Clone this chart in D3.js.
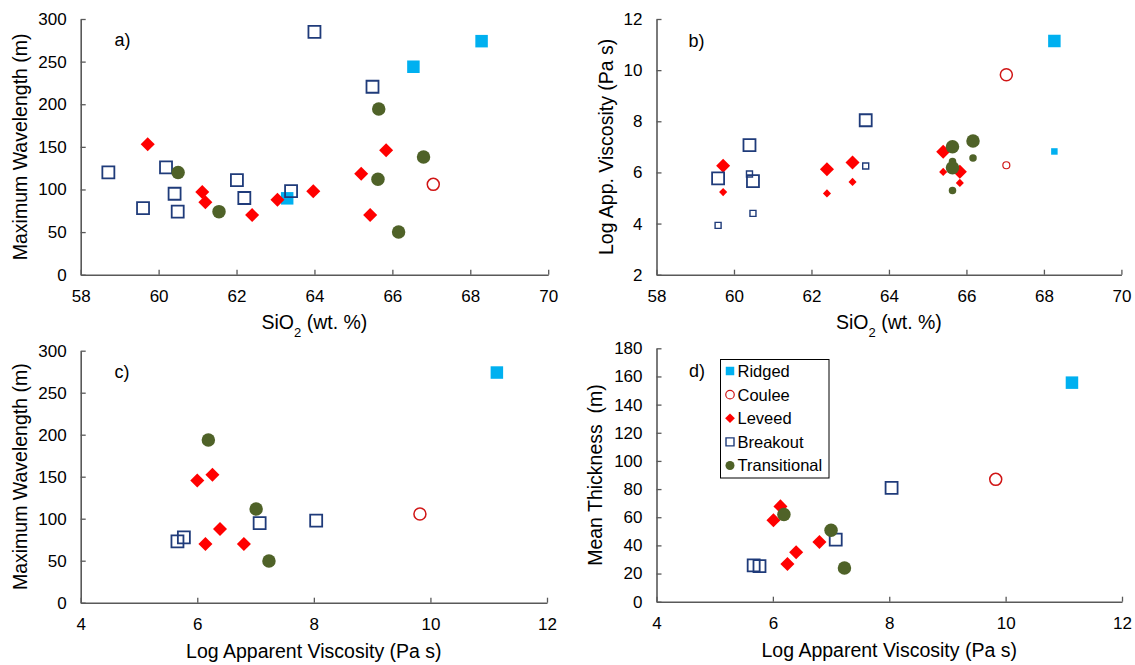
<!DOCTYPE html>
<html><head><meta charset="utf-8">
<script src="https://cdn.jsdelivr.net/npm/d3@7"></script>
<style>html,body{margin:0;padding:0;background:#fff}</style>
</head><body><svg id="chart" width="1135" height="665"></svg>
<script>
// ---------------- DATA ----------------
const categories = ["Ridged", "Coulee", "Leveed", "Breakout", "Transitional"];

// Panel a: SiO2 vs Maximum Wavelength
const aRidgedSiO2 = [68.29, 66.54, 63.30];
const aRidgedWave = [274, 244, 89.6];
const aCouleeSiO2 = [67.05];
const aCouleeWave = [106];
const aLeveedSiO2 = [59.72, 61.12, 61.20, 62.40, 63.05, 63.97, 65.20, 65.43, 65.84];
const aLeveedWave = [153, 97, 85, 70, 88, 98, 118.5, 70, 146];
const aBreakoutSiO2 = [58.71, 59.60, 60.19, 60.41, 60.49, 62.01, 62.20, 63.40, 64.00, 65.49];
const aBreakoutWave = [120, 78, 126, 95, 74, 111, 90, 98, 285, 220.5];
const aTransSiO2 = [60.50, 61.55, 65.65, 65.63, 66.80, 66.16];
const aTransWave = [120, 74, 194.5, 112, 138, 50];

// Panel b: SiO2 vs Log App. Viscosity (large and small markers)
const bRidgedSiO2 = [68.27];
const bRidgedVisc = [11.14];
const bRidgedViscSmall = [6.82];
const bCouleeSiO2 = [67.03];
const bCouleeVisc = [9.82];
const bCouleeViscSmall = [6.28];
const bLeveedSiO2 = [59.72, 62.40, 63.06, 65.40, 65.83];
const bLeveedVisc = [6.26, 6.12, 6.39, 6.81, 6.03];
const bLeveedViscSmall = [5.23, 5.18, 5.63, 6.02, 5.59];
const bBreakoutSiO2 = [59.59, 60.40, 60.49, 63.40];
const bBreakoutVisc = [5.77, 7.07, 5.66, 8.04];
const bBreakoutViscSmall = [3.93, 5.94, 4.40, 6.25];
const bTransSiO2 = [65.64, 65.64, 66.17];
const bTransVisc = [7.00, 6.18, 7.23];
const bTransViscSmall = [6.43, 5.29, 6.56];

// Panel c: Log Apparent Viscosity vs Maximum Wavelength
const cRidgedVisc = [11.14];
const cRidgedWave = [274];
const cCouleeVisc = [9.82];
const cCouleeWave = [105.6];
const cLeveedVisc = [6.00, 6.26, 6.39, 6.14, 6.80];
const cLeveedWave = [145.6, 152.4, 87.7, 69.8, 69.8];
const cBreakoutVisc = [5.66, 5.77, 7.07, 8.04];
const cBreakoutWave = [73, 77.8, 94.8, 97.6];
const cTransVisc = [6.19, 7.01, 7.23];
const cTransWave = [193.7, 111.5, 49.6];

// Panel d: Log Apparent Viscosity vs Mean Thickness
const dRidgedVisc = [11.14];
const dRidgedThick = [155.6];
const dCouleeVisc = [9.83];
const dCouleeThick = [86.9];
const dLeveedVisc = [6.13, 6.01, 6.25, 6.40, 6.80];
const dLeveedThick = [67.7, 57.8, 26.8, 35.1, 42.4];
const dBreakoutVisc = [5.67, 5.77, 7.08, 8.04];
const dBreakoutThick = [25.8, 25.3, 44.1, 80.8];
const dTransVisc = [6.19, 7.00, 7.23];
const dTransThick = [62, 50.7, 23.9];

// Tick labels
const sio2Ticks = [58, 60, 62, 64, 66, 68, 70];
const waveTicks = [0, 50, 100, 150, 200, 250, 300];
const viscYTicks = [2, 4, 6, 8, 10, 12];
const viscXTicks = [4, 6, 8, 10, 12];
const thickTicks = [0, 20, 40, 60, 80, 100, 120, 140, 160, 180];

// ---------------- STYLE ----------------
const FONT = "'Liberation Sans', Arial, sans-serif";
const AXIS = "#595959";
const COL = {
  Ridged: "#00B0F0", Coulee: "#D01515", Leveed: "#FF0000",
  Breakout: "#1F3B7A", Transitional: "#4F6228"
};

function markerPath(type, s) {
  // s = nominal marker size (px)
  const h = s / 2;
  if (type === "Ridged" || type === "Breakout") {
    return `M${-h},${-h}H${h}V${h}H${-h}Z`;
  }
  if (type === "Leveed") {
    const r = h * 1.08;
    return `M0,${-r}L${r},0L0,${r}L${-r},0Z`;
  }
  // circle
  return `M${h},0A${h},${h} 0 1 1 ${-h},0A${h},${h} 0 1 1 ${h},0Z`;
}
function markerStyle(sel, type, small) {
  if (type === "Ridged") sel.attr("fill", COL.Ridged).attr("stroke", "none");
  else if (type === "Coulee") sel.attr("fill", "none").attr("stroke", COL.Coulee).attr("stroke-width", small ? 1.2 : 1.5);
  else if (type === "Leveed") sel.attr("fill", COL.Leveed).attr("stroke", "none");
  else if (type === "Breakout") sel.attr("fill", "none").attr("stroke", COL.Breakout).attr("stroke-width", small ? 1.4 : 1.8);
  else sel.attr("fill", COL.Transitional).attr("stroke", "none");
}
const SIZE = { Ridged: 12.5, Coulee: 12, Leveed: 13, Breakout: 12, Transitional: 13.5 };
const SIZE_SMALL = { Ridged: 6.5, Coulee: 7, Leveed: 7.5, Breakout: 6, Transitional: 7.5 };

const svg = d3.select("#chart");
svg.append("rect").attr("width", 1135).attr("height", 665).attr("fill", "#fff");

function zip(xs, ys) { return xs.map((v, i) => ({ x: v, y: ys[i] })); }

function panel(cfg) {
  const x = d3.scaleLinear().domain(cfg.xDomain).range([cfg.L, cfg.R]);
  const y = d3.scaleLinear().domain(cfg.yDomain).range([cfg.B, cfg.T]);
  const g = svg.append("g");

  const xAxis = d3.axisBottom(x).tickValues(cfg.xTicks).tickSizeInner(-5).tickSizeOuter(0).tickPadding(15.5);
  const yAxis = d3.axisLeft(y).tickValues(cfg.yTicks).tickSizeInner(-5).tickSizeOuter(0).tickPadding(14);

  const gx = g.append("g").attr("transform", `translate(0,${cfg.B})`).call(xAxis);
  const gy = g.append("g").attr("transform", `translate(${cfg.L},0)`).call(yAxis);
  [gx, gy].forEach(a => {
    a.select(".domain").attr("stroke", AXIS).attr("stroke-width", 1.6);
    a.selectAll(".tick line").attr("stroke", AXIS).attr("stroke-width", 1.3);
    a.selectAll(".tick text").attr("fill", "#000").style("font-family", FONT).style("font-size", "17px");
  });

  // series
  cfg.series.forEach(s => {
    const sz = s.small ? SIZE_SMALL[s.type] : SIZE[s.type];
    const sel = g.append("g").selectAll("path").data(s.data).join("path")
      .attr("d", markerPath(s.type, sz))
      .attr("transform", d => `translate(${x(d.x)},${y(d.y)})`);
    markerStyle(sel, s.type, s.small);
  });

  // panel label
  g.append("text").attr("x", cfg.labelX).attr("y", cfg.labelY)
    .style("font-family", FONT).style("font-size", "18px").attr("fill", "#000").text(cfg.label);

  // x title
  const xt = g.append("text").attr("x", (cfg.L + cfg.R) / 2).attr("y", cfg.xTitleY)
    .attr("text-anchor", "middle").style("font-family", FONT).style("font-size", "19.5px").attr("fill", "#000");
  if (cfg.xTitle === "SiO2") {
    xt.append("tspan").text("SiO");
    xt.append("tspan").attr("baseline-shift", "sub").style("font-size", "13px").text("2");
    xt.append("tspan").text(" (wt. %)");
  } else {
    xt.text(cfg.xTitle);
  }
  // y title
  g.append("text").attr("transform", `translate(${cfg.yTitleX},${(cfg.T + cfg.B) / 2}) rotate(-90)`)
    .attr("text-anchor", "middle").style("font-family", FONT).style("font-size", "19.5px")
    .style("white-space", "pre").attr("fill", "#000").text(cfg.yTitle);
  return g;
}

// Panel a
panel({
  L: 80.7, R: 548.2, T: 19, B: 274.7,
  xDomain: [58, 70], yDomain: [0, 300], xTicks: sio2Ticks, yTicks: waveTicks,
  label: "a)", labelX: 114.5, labelY: 46,
  xTitle: "SiO2", xTitleY: 329, yTitle: "Maximum Wavelength (m)", yTitleX: 26.5,
  series: [
    { type: "Ridged", data: zip(aRidgedSiO2, aRidgedWave) },
    { type: "Coulee", data: zip(aCouleeSiO2, aCouleeWave) },
    { type: "Leveed", data: zip(aLeveedSiO2, aLeveedWave) },
    { type: "Breakout", data: zip(aBreakoutSiO2, aBreakoutWave) },
    { type: "Transitional", data: zip(aTransSiO2, aTransWave) }
  ]
});

// Panel b
panel({
  L: 656.5, R: 1121.4, T: 19, B: 274.7,
  xDomain: [58, 70], yDomain: [2, 12], xTicks: sio2Ticks, yTicks: viscYTicks,
  label: "b)", labelX: 688.5, labelY: 47,
  xTitle: "SiO2", xTitleY: 329, yTitle: "Log App. Viscosity (Pa s)", yTitleX: 612.5,
  series: [
    { type: "Ridged", data: zip(bRidgedSiO2, bRidgedVisc) },
    { type: "Ridged", small: true, data: zip(bRidgedSiO2, bRidgedViscSmall) },
    { type: "Coulee", data: zip(bCouleeSiO2, bCouleeVisc) },
    { type: "Coulee", small: true, data: zip(bCouleeSiO2, bCouleeViscSmall) },
    { type: "Leveed", data: zip(bLeveedSiO2, bLeveedVisc) },
    { type: "Leveed", small: true, data: zip(bLeveedSiO2, bLeveedViscSmall) },
    { type: "Breakout", data: zip(bBreakoutSiO2, bBreakoutVisc) },
    { type: "Breakout", small: true, data: zip(bBreakoutSiO2, bBreakoutViscSmall) },
    { type: "Transitional", small: true, data: zip(bTransSiO2, bTransViscSmall) },
    { type: "Transitional", data: zip(bTransSiO2, bTransVisc) }
  ]
});

// Panel c
panel({
  L: 80.7, R: 547, T: 350.7, B: 602.7,
  xDomain: [4, 12], yDomain: [0, 300], xTicks: viscXTicks, yTicks: waveTicks,
  label: "c)", labelX: 114.5, labelY: 378,
  xTitle: "Log Apparent Viscosity (Pa s)", xTitleY: 658, yTitle: "Maximum Wavelength (m)", yTitleX: 26.5,
  series: [
    { type: "Ridged", data: zip(cRidgedVisc, cRidgedWave) },
    { type: "Coulee", data: zip(cCouleeVisc, cCouleeWave) },
    { type: "Leveed", data: zip(cLeveedVisc, cLeveedWave) },
    { type: "Breakout", data: zip(cBreakoutVisc, cBreakoutWave) },
    { type: "Transitional", data: zip(cTransVisc, cTransWave) }
  ]
});

// Panel d
panel({
  L: 656.5, R: 1122, T: 348.3, B: 601.7,
  xDomain: [4, 12], yDomain: [0, 180], xTicks: viscXTicks, yTicks: thickTicks,
  label: "d)", labelX: 689, labelY: 377,
  xTitle: "Log Apparent Viscosity (Pa s)", xTitleY: 657, yTitle: "Mean Thickness  (m)", yTitleX: 602,
  series: [
    { type: "Ridged", data: zip(dRidgedVisc, dRidgedThick) },
    { type: "Coulee", data: zip(dCouleeVisc, dCouleeThick) },
    { type: "Leveed", data: zip(dLeveedVisc, dLeveedThick) },
    { type: "Breakout", data: zip(dBreakoutVisc, dBreakoutThick) },
    { type: "Transitional", data: zip(dTransVisc, dTransThick) }
  ]
});

// Legend (in panel d)
const lg = svg.append("g");
lg.append("rect").attr("x", 720.5).attr("y", 359.5).attr("width", 108.5).attr("height", 118.5)
  .attr("fill", "#fff").attr("stroke", "#000").attr("stroke-width", 1);
const LEG_SIZE = { Ridged: 8.5, Coulee: 8.5, Leveed: 9, Breakout: 8, Transitional: 9 };
const legY = d3.scalePoint().domain(categories).range([371, 465.5]);
categories.forEach(c => {
  const p = lg.append("path").attr("d", markerPath(c, LEG_SIZE[c]))
    .attr("transform", `translate(730,${legY(c)})`);
  markerStyle(p, c, true);
  lg.append("text").attr("x", 737.5).attr("y", legY(c)).attr("dy", "0.36em")
    .style("font-family", FONT).style("font-size", "16.5px").attr("fill", "#000").text(c);
});
</script>
</body></html>
